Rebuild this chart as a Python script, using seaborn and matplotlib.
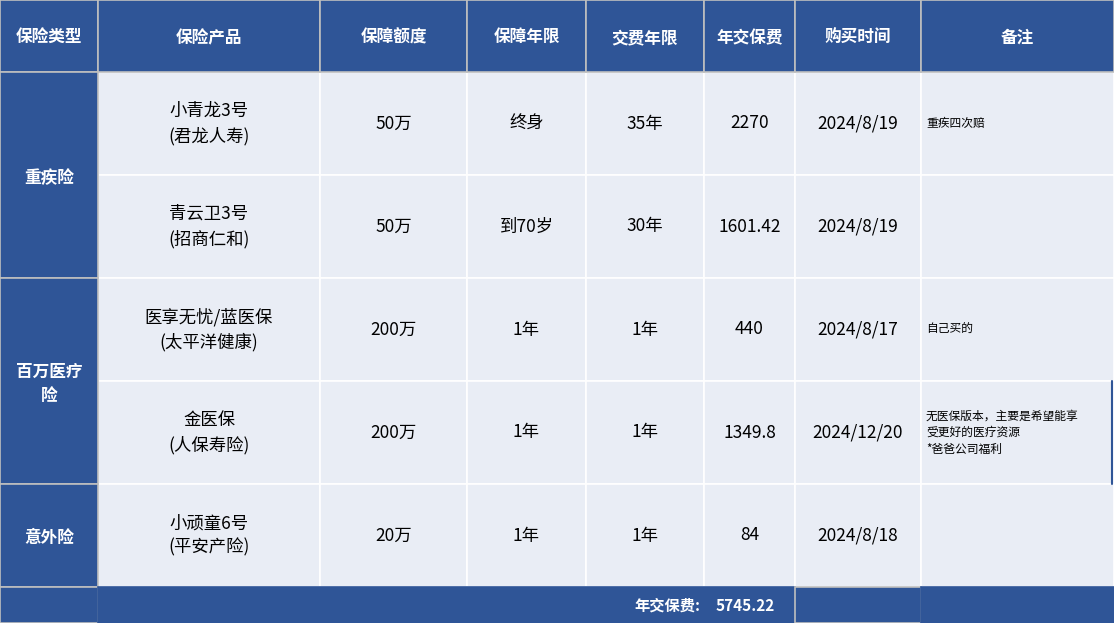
import matplotlib
matplotlib.use("Agg")
import matplotlib.pyplot as plt
import seaborn as sns
from matplotlib.patches import Rectangle

sns.set_theme(style="white")
plt.rcParams['font.family'] = ['Noto Sans CJK SC', 'DejaVu Sans']

headers = ["保险类型", "保险产品", "保障额度", "保障年限", "交费年限", "年交保费", "购买时间", "备注"]
types = [("重疾险", 2), ("百万医疗\n险", 2), ("意外险", 1)]
products = ["小青龙3号\n(君龙人寿)", "青云卫3号\n(招商仁和)", "医享无忧/蓝医保\n(太平洋健康)", "金医保\n(人保寿险)", "小顽童6号\n(平安产险)"]
amounts = ["50万", "50万", "200万", "200万", "20万"]
terms = ["终身", "到70岁", "1年", "1年", "1年"]
pay_terms = ["35年", "30年", "1年", "1年", "1年"]
premiums = ["2270", "1601.42", "440", "1349.8", "84"]
dates = ["2024/8/19", "2024/8/19", "2024/8/17", "2024/12/20", "2024/8/18"]
notes = ["重疾四次赔", "", "自己买的", "无医保版本，主要是希望能享\n受更好的医疗资源\n*爸爸公司福利", ""]
total_label = "年交保费:"
total_value = "5745.22"

col_x = [0, 98, 320, 467, 586, 704, 795, 921, 1114]
row_y = [0, 72, 175, 278, 381, 484, 587, 623]
BLUE = "#2F5597"
LIGHT = "#E9EDF5"
GREY = "#BFBFBF"

fig = plt.figure(figsize=(11.14, 6.23), dpi=100)
ax = fig.add_axes([0, 0, 1, 1])
ax.set_xlim(0, 1114)
ax.set_ylim(623, 0)
ax.axis("off")

def rect(x0, y0, x1, y1, fc, ec):
    ax.add_patch(Rectangle((x0, y0), x1 - x0, y1 - y0, facecolor=fc, edgecolor=ec, linewidth=1.2))

# body
for r in range(5):
    for c in range(1, 8):
        rect(col_x[c], row_y[r+1], col_x[c+1], row_y[r+2], LIGHT, "white")
# header
for c in range(8):
    rect(col_x[c], 0, col_x[c+1], 72, BLUE, GREY)
    ax.text((col_x[c]+col_x[c+1])/2, 38, headers[c], ha="center", va="center",
            color="white", fontsize=12, fontweight="bold")
# type column
r = 0
for name, span in types:
    y0, y1 = row_y[r+1], row_y[r+1+span]
    rect(0, y0, 98, y1, BLUE, GREY)
    ax.text(49, (y0+y1)/2 + 3, name, ha="center", va="center", color="white",
            fontsize=12, fontweight="bold", linespacing=1.5)
    r += span
# footer
rect(0, 587, 98, 623, BLUE, GREY)
rect(98, 587, 795, 623, BLUE, BLUE)
rect(795, 587, 921, 623, BLUE, GREY)
rect(921, 587, 1114, 623, BLUE, BLUE)
ax.text(700, 606, total_label, ha="right", va="center", color="white", fontsize=11, fontweight="bold")
ax.text(716, 606, total_value, ha="left", va="center", color="white", fontsize=11, fontweight="bold")

cols = [products, amounts, terms, pay_terms, premiums, dates]
for i in range(5):
    yc = (row_y[i+1] + row_y[i+2]) / 2
    for j, col in enumerate(cols):
        c = j + 1
        ax.text((col_x[c]+col_x[c+1])/2, yc, col[i], ha="center", va="center",
                color="black", fontsize=12.5, linespacing=1.45)
    if notes[i]:
        ax.text(926, yc, notes[i], ha="left", va="center", color="black",
                fontsize=8.5, linespacing=1.35)
ax.plot([1112, 1112], [381, 484], color=BLUE, lw=1.5)

fig.savefig("out.png", dpi=100)
